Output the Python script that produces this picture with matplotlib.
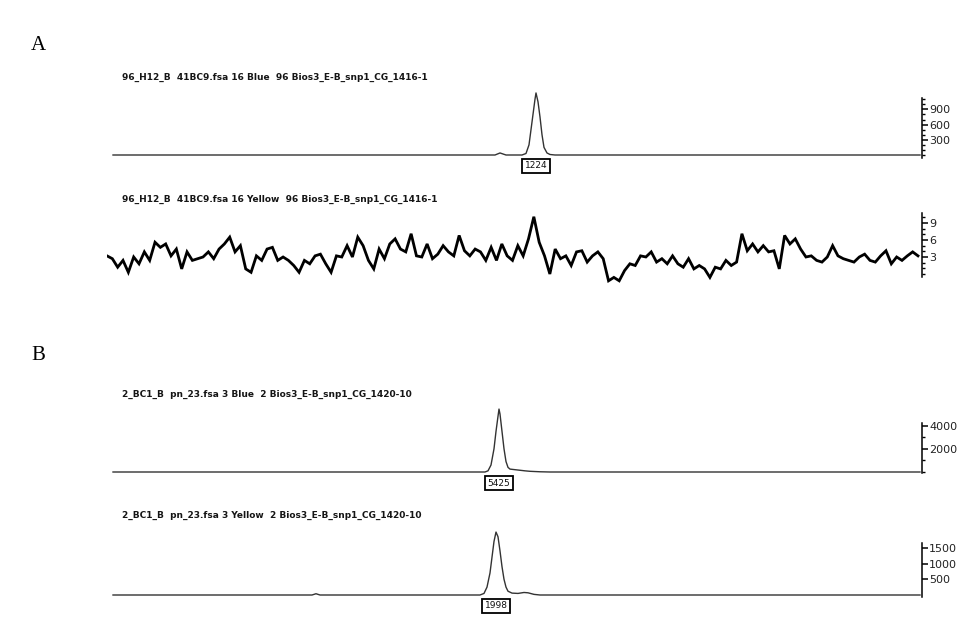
import numpy as np
import matplotlib
matplotlib.use("Agg")
import matplotlib.pyplot as plt
from matplotlib.ticker import FixedLocator, NullLocator

# ---------------------------------------------------------------- data
panel_letters = ["A", "B"]

titles = [
    "96_H12_B  41BC9.fsa 16 Blue  96 Bios3_E-B_snp1_CG_1416-1",
    "96_H12_B  41BC9.fsa 16 Yellow  96 Bios3_E-B_snp1_CG_1416-1",
    "2_BC1_B  pn_23.fsa 3 Blue  2 Bios3_E-B_snp1_CG_1420-10",
    "2_BC1_B  pn_23.fsa 3 Yellow  2 Bios3_E-B_snp1_CG_1420-10",
]

# A, blue channel (scan number, RFU)
a1_scan = [60, 3880, 3930, 3990, 4150, 4190, 4220, 4240, 4260, 4280, 4290,
           4310, 4330, 4350, 4370, 4400, 4430, 4480, 8130]
a1_rfu = [0, 0, 40, 0, 0, 30, 200, 500, 800, 1100, 1224,
          1050, 750, 400, 150, 40, 10, 0, 0]
a1_peak = 1224

# A, yellow channel (noise trace, RFU)
a2_rfu = [3.2, 2.7, 1.2, 2.4, 0.3, 3.0, 1.8, 3.9, 2.4, 5.6, 4.7, 5.3, 3.2, 4.4,
          0.9, 3.9, 2.4, 2.7, 3.0, 3.9, 2.7, 4.4, 5.3, 6.5, 3.9, 5.0, 0.9, 0.3,
          3.2, 2.4, 4.4, 4.7, 2.4, 3.0, 2.4, 1.5, 0.3, 2.4, 1.8, 3.2, 3.5, 1.8,
          0.3, 3.2, 3.0, 5.0, 3.0, 6.5, 5.0, 2.4, 0.9, 4.4, 2.7, 5.3, 6.2, 4.4,
          3.9, 7.1, 3.2, 3.0, 5.3, 2.7, 3.5, 5.0, 3.9, 3.2, 6.8, 4.1, 3.2, 4.4,
          3.9, 2.4, 4.7, 2.4, 5.3, 3.2, 2.4, 5.0, 3.2, 6.2, 10.1, 5.6, 3.2, 0.0,
          4.4, 2.7, 3.2, 1.5, 3.9, 4.1, 2.1, 3.2, 3.9, 2.7, -1.2, -0.6, -1.2,
          0.6, 1.8, 1.5, 3.2, 3.0, 3.9, 2.1, 2.7, 1.8, 3.2, 1.8, 1.2, 2.7, 0.9,
          1.5, 0.9, -0.6, 1.2, 0.9, 2.4, 1.5, 2.1, 7.1, 4.1, 5.3, 3.9, 5.0, 3.9,
          4.1, 0.9, 6.8, 5.3, 6.2, 4.4, 3.0, 3.2, 2.4, 2.1, 3.0, 5.0, 3.2, 2.7,
          2.4, 2.1, 3.0, 3.5, 2.4, 2.1, 3.2, 4.1, 1.8, 3.0, 2.4, 3.2, 3.9, 3.2]
a2_first_scan, a2_last_scan = 0, 8110

# B, blue channel
b1_scan = [60, 3780, 3810, 3840, 3870, 3890, 3910, 3920, 3930, 3950, 3970,
           3990, 4010, 4030, 4080, 4130, 4180, 4230, 4330, 4430, 8130]
b1_rfu = [0, 0, 100, 600, 2000, 3500, 4800, 5425, 5000, 3500, 2000,
          900, 400, 250, 200, 150, 100, 60, 20, 0, 0]
b1_peak = 5425

# B, yellow channel
b2_scan = [60, 1930, 2050, 2090, 2130, 3730, 3770, 3800, 3830, 3850, 3870,
           3890, 3910, 3930, 3950, 3970, 3990, 4010, 4050, 4110, 4170, 4210,
           4270, 4330, 8130]
b2_rfu = [0, 0, 0, 40, 0, 0, 50, 250, 700, 1200, 1700,
          1998, 1850, 1400, 900, 500, 250, 120, 60, 50, 80, 70,
          20, 0, 0]
b2_peak = 1998

a1_ticks, a1_labels = [900, 600, 300], ["900", "600", "300"]
a2_ticks, a2_labels = [9, 6, 3], ["9", "6", "3"]
b1_ticks, b1_labels = [4000, 2000], ["4000", "2000"]
b2_ticks, b2_labels = [1500, 1000, 500], ["1500", "1000", "500"]

# ---------------------------------------------------------------- layout
W, H = 963, 617
fig = plt.figure(figsize=(W / 100, H / 100), dpi=100)
X0, X1 = 107, 922
SCAN_MAX = 8150


def make_panel(py_zero, px_per_unit, ylo, yhi, spine_lo, spine_hi):
    top = py_zero - yhi * px_per_unit
    bot = py_zero - ylo * px_per_unit
    ax = fig.add_axes([X0 / W, 1 - bot / H, (X1 - X0) / W, (bot - top) / H])
    ax.set_xlim(0, SCAN_MAX)
    ax.set_ylim(ylo, yhi)
    ax.patch.set_visible(False)
    for side in ("top", "bottom", "left"):
        ax.spines[side].set_visible(False)
    ax.spines["right"].set_bounds(spine_lo, spine_hi)
    ax.spines["right"].set_linewidth(1.1)
    ax.xaxis.set_major_locator(NullLocator())
    ax.yaxis.tick_right()
    ax.tick_params(axis="y", which="major", direction="out", length=4,
                   width=1.1, pad=1, labelsize=8, labelcolor="#222222")
    ax.tick_params(axis="y", which="minor", direction="out", length=2,
                   width=1.0)
    return ax


def set_ticks(ax, ticks, labels, minor_step, lo, hi):
    ax.yaxis.set_major_locator(FixedLocator(ticks))
    ax.set_yticklabels(labels)
    if minor_step:
        minors = np.arange(0, hi + 1e-9, minor_step)
        minors = [m for m in minors if m >= lo and m not in ticks]
        ax.yaxis.set_minor_locator(FixedLocator(minors))
    for lab in ax.get_yticklabels():
        lab.set_family("DejaVu Sans")


def peak_label(ax, x, value):
    ax.annotate(str(value), xy=(x, 0), xytext=(0, -11),
                textcoords="offset pixels", ha="center", va="center",
                fontsize=6.5, color="#111111",
                bbox=dict(boxstyle="square,pad=0.25", fc="white",
                          ec="black", lw=1.3))


# A - blue
ax1 = make_panel(155, 0.0507, -100, 1400, -60, 1120)
ax1.plot(a1_scan, a1_rfu, color="#333333", lw=1.0, solid_joinstyle="round")
set_ticks(ax1, a1_ticks, a1_labels, 100, -60, 1120)
peak_label(ax1, a1_scan[int(np.argmax(a1_rfu))], a1_peak)

# A - yellow
ax2 = make_panel(274, 5.67, -2.5, 11.5, -0.5, 10.8)
a2_scan = np.linspace(a2_first_scan, a2_last_scan, len(a2_rfu))
ax2.plot(a2_scan, a2_rfu, color="black", lw=2.0, solid_joinstyle="miter")
set_ticks(ax2, a2_ticks, a2_labels, 1, -0.5, 10.8)

# B - blue
ax3 = make_panel(472, 0.0116, -300, 5800, -80, 4220)
ax3.plot(b1_scan, b1_rfu, color="#333333", lw=1.0, solid_joinstyle="round")
set_ticks(ax3, b1_ticks, b1_labels, 1000, -80, 4220)
peak_label(ax3, b1_scan[int(np.argmax(b1_rfu))], b1_peak)

# B - yellow
ax4 = make_panel(595, 0.0315, -100, 2200, -60, 1650)
ax4.plot(b2_scan, b2_rfu, color="#333333", lw=1.0, solid_joinstyle="round")
set_ticks(ax4, b2_ticks, b2_labels, None, -60, 1650)
peak_label(ax4, b2_scan[int(np.argmax(b2_rfu))], b2_peak)

# channel titles
for title, y in zip(titles, [77, 199, 394, 515]):
    fig.text(122 / W, 1 - y / H, title, fontsize=6.5, fontweight="bold",
             color="#151515", ha="left", va="center", family="DejaVu Sans")

# panel letters
for letter, y in zip(panel_letters, [45, 356]):
    fig.text(38 / W, 1 - y / H, letter, fontsize=15, ha="center",
             va="center", family="Liberation Serif", color="black")

fig.savefig("out.png", dpi=100, facecolor="white")
